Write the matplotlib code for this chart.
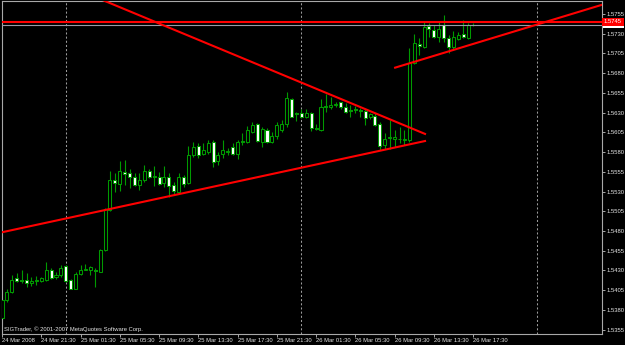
import numpy as np
import matplotlib
matplotlib.use('Agg')
import matplotlib.pyplot as plt
from matplotlib.patches import Rectangle

plt.rcParams['font.family'] = ['Liberation Sans', 'DejaVu Sans']

# EURUSD-like M30 bars, 24 Mar 2008 17:30 .. 26 Mar 2008 17:30 (bar index 0..96)
opens = [1.5370, 1.5392, 1.5403, 1.5420, 1.5418, 1.5418, 1.5414, 1.5417, 1.5416, 1.5418,
         1.5430, 1.5421, 1.5424, 1.5435, 1.5418, 1.5406, 1.5426, 1.5431, 1.5430, 1.5431,
         1.5428, 1.5456, 1.5507, 1.5545, 1.5540, 1.5555, 1.5554, 1.5548, 1.5538, 1.5545,
         1.5556, 1.5549, 1.5548, 1.5541, 1.5549, 1.5538, 1.5530, 1.5548, 1.5541, 1.5576,
         1.5588, 1.5577, 1.5580, 1.5593, 1.5569, 1.5578, 1.5580, 1.5586, 1.5578, 1.5594,
         1.5593, 1.5606, 1.5615, 1.5593, 1.5608, 1.5593, 1.5600, 1.5608, 1.5615, 1.5647,
         1.5629, 1.5630, 1.5625, 1.5630, 1.5611, 1.5608, 1.5637, 1.5637, 1.5640, 1.5643,
         1.5637, 1.5633, 1.5634, 1.5633, 1.5632, 1.5624, 1.5626, 1.5615, 1.5589, 1.5598,
         1.5597, 1.5596, 1.5595, 1.5595, 1.5693, 1.5717, 1.5713, 1.5740, 1.5735, 1.5726,
         1.5741, 1.5724, 1.5713, 1.5723, 1.5730, 1.5725, 1.5741]
highs = [1.5395, 1.5406, 1.5424, 1.5427, 1.5430, 1.5427, 1.5421, 1.5423, 1.5421, 1.5441,
         1.5433, 1.5428, 1.5437, 1.5437, 1.5419, 1.5428, 1.5437, 1.5438, 1.5435, 1.5433,
         1.5457, 1.5509, 1.5556, 1.5553, 1.5569, 1.5570, 1.5559, 1.5554, 1.5553, 1.5563,
         1.5558, 1.5562, 1.5555, 1.5562, 1.5553, 1.5542, 1.5553, 1.5551, 1.5588, 1.5593,
         1.5591, 1.5591, 1.5595, 1.5595, 1.5580, 1.5595, 1.5585, 1.5591, 1.5595, 1.5604,
         1.5613, 1.5618, 1.5617, 1.5612, 1.5610, 1.5606, 1.5618, 1.5621, 1.5656, 1.5649,
         1.5631, 1.5634, 1.5634, 1.5631, 1.5615, 1.5647, 1.5654, 1.5650, 1.5643, 1.5644,
         1.5642, 1.5640, 1.5638, 1.5636, 1.5635, 1.5630, 1.5629, 1.5618, 1.5604, 1.5621,
         1.5608, 1.5612, 1.5608, 1.5712, 1.5730, 1.5724, 1.5745, 1.5744, 1.5741, 1.5745,
         1.5754, 1.5728, 1.5733, 1.5732, 1.5747, 1.5744, 1.5743]
lows = [1.5367, 1.5390, 1.5401, 1.5415, 1.5414, 1.5409, 1.5410, 1.5412, 1.5415, 1.5416,
        1.5419, 1.5419, 1.5422, 1.5415, 1.5406, 1.5406, 1.5424, 1.5430, 1.5424, 1.5409,
        1.5428, 1.5455, 1.5505, 1.5530, 1.5531, 1.5538, 1.5534, 1.5537, 1.5532, 1.5542,
        1.5547, 1.5537, 1.5538, 1.5536, 1.5523, 1.5527, 1.5527, 1.5536, 1.5540, 1.5574,
        1.5573, 1.5576, 1.5578, 1.5561, 1.5563, 1.5572, 1.5576, 1.5576, 1.5571, 1.5589,
        1.5591, 1.5604, 1.5593, 1.5587, 1.5591, 1.5591, 1.5597, 1.5606, 1.5612, 1.5624,
        1.5620, 1.5623, 1.5623, 1.5607, 1.5608, 1.5607, 1.5631, 1.5635, 1.5637, 1.5635,
        1.5629, 1.5625, 1.5629, 1.5625, 1.5614, 1.5622, 1.5613, 1.5582, 1.5584, 1.5584,
        1.5587, 1.5591, 1.5589, 1.5593, 1.5692, 1.5703, 1.5712, 1.5726, 1.5724, 1.5720,
        1.5720, 1.5705, 1.5709, 1.5722, 1.5724, 1.5723, 1.5740]
closes = [1.5392, 1.5403, 1.5418, 1.5417, 1.5417, 1.5414, 1.5417, 1.5418, 1.5420, 1.5430,
          1.5420, 1.5424, 1.5433, 1.5416, 1.5407, 1.5426, 1.5431, 1.5431, 1.5434, 1.5429,
          1.5456, 1.5508, 1.5545, 1.5541, 1.5556, 1.5552, 1.5549, 1.5538, 1.5545, 1.5556,
          1.5548, 1.5550, 1.5540, 1.5548, 1.5537, 1.5531, 1.5549, 1.5540, 1.5576, 1.5587,
          1.5576, 1.5583, 1.5591, 1.5568, 1.5576, 1.5583, 1.5581, 1.5577, 1.5593, 1.5593,
          1.5608, 1.5614, 1.5594, 1.5609, 1.5593, 1.5600, 1.5614, 1.5615, 1.5649, 1.5625,
          1.5628, 1.5625, 1.5630, 1.5611, 1.5609, 1.5637, 1.5638, 1.5640, 1.5641, 1.5637,
          1.5631, 1.5632, 1.5633, 1.5632, 1.5623, 1.5628, 1.5614, 1.5588, 1.5597, 1.5599,
          1.5599, 1.5597, 1.5596, 1.5693, 1.5718, 1.5714, 1.5739, 1.5736, 1.5726, 1.5736,
          1.5724, 1.5713, 1.5726, 1.5729, 1.5726, 1.5741, 1.5741]

time_tick_bars = [0, 8, 16, 24, 32, 40, 48, 56, 64, 72, 80, 88, 96]
time_tick_labels = ['24 Mar 2008', '24 Mar 21:30', '25 Mar 01:30', '25 Mar 05:30',
                    '25 Mar 09:30', '25 Mar 13:30', '25 Mar 17:30', '25 Mar 21:30',
                    '26 Mar 01:30', '26 Mar 05:30', '26 Mar 09:30', '26 Mar 13:30',
                    '26 Mar 17:30']
day_separator_bars = [13, 61, 109]
price_ticks = [1.5355, 1.5380, 1.5405, 1.5430, 1.5455, 1.5480, 1.5505, 1.5530, 1.5555,
               1.5580, 1.5605, 1.5630, 1.5655, 1.5680, 1.5705, 1.5730, 1.5755]

hline_price = 1.5745
bid_price = 1.5741

# trend lines drawn on the chart (bar index, price)
lower_trend_bars = [-1, 86.2]
lower_trend_prices = [1.5477, 1.5594]
upper_trend_bars = [20, 86.2]
upper_trend_prices = [1.5774, 1.5603]
rising_trend_bars = [80.1, 124]
rising_trend_prices = [1.5687, 1.5770]

green = '#009a00'
fg = '#e6e6e6'
frame = '#a8a8a8'
fs = 4.2

fig = plt.figure(figsize=(6.25, 3.45), dpi=100, facecolor='black')
ax = fig.add_axes([2 / 625, 11.5 / 345, 600 / 625, 332.5 / 345])
ax.set_facecolor('black')

idx = np.arange(len(opens))
o = np.array(opens)
c = np.array(closes)

# day separators
for b in day_separator_bars:
    ax.axvline(b, color='#9a9a9a', lw=0.75, dashes=(2, 2), zorder=1)

# candles: wicks first, bodies on top (bull hollow, bear white)
ax.vlines(idx, lows, highs, color=green, lw=0.8, zorder=2)
body_low = np.minimum(o, c)
body_h = np.maximum(np.abs(c - o), 0.00002)
face = ['black' if cl >= op else 'white' for op, cl in zip(opens, closes)]
ax.bar(idx, body_h, bottom=body_low, width=0.62, color=face, edgecolor=green,
       linewidth=0.75, zorder=3)

# drawn objects
ax.axhline(bid_price, color='#9a9aa6', lw=0.8, zorder=4)
ax.axhline(hline_price, color='red', lw=1.5, zorder=5)
ax.plot(lower_trend_bars, lower_trend_prices, color='red', lw=1.5, zorder=5)
ax.plot(upper_trend_bars, upper_trend_prices, color='red', lw=1.5, zorder=5)
ax.plot(rising_trend_bars, rising_trend_prices, color='red', lw=1.5, zorder=5)

ax.set_xlim(0.06, 122.26)
ax.set_ylim(1.5350, 1.57715)

ax.yaxis.tick_right()
ax.set_yticks(price_ticks)
ax.set_yticklabels([f'{p:.4f}' for p in price_ticks])
ax.set_xticks(time_tick_bars)
ax.set_xticklabels(time_tick_labels)
for lab in ax.get_xticklabels():
    lab.set_horizontalalignment('left')
ax.tick_params(axis='both', labelsize=fs, length=2.5, width=0.7, pad=0.8)
ax.tick_params(axis='x', colors=frame, labelcolor=fg)
ax.tick_params(axis='y', colors=frame, labelcolor=fg)
for s in ax.spines.values():
    s.set_color(frame)
    s.set_linewidth(0.8)

# bid label (mostly hidden) and horizontal line label on the price scale
ax.add_patch(Rectangle((1.001, bid_price - 0.0004), 0.036, 0.0008,
                       transform=ax.get_yaxis_transform(), facecolor='white',
                       edgecolor='none', clip_on=False, zorder=6))
ax.text(1.003, hline_price, f'{hline_price:.4f}', transform=ax.get_yaxis_transform(),
        fontsize=fs, color='white', va='center', ha='left', clip_on=False, zorder=7,
        bbox=dict(boxstyle='square,pad=0.3', fc='red', ec='none'))

ax.text(0.003, 0.006, 'SIGTrader, \u00a9 2001-2007 MetaQuotes Software Corp.',
        transform=ax.transAxes, fontsize=fs, color=fg, va='bottom', ha='left')

plt.savefig('out.png', dpi=100, facecolor='black')
